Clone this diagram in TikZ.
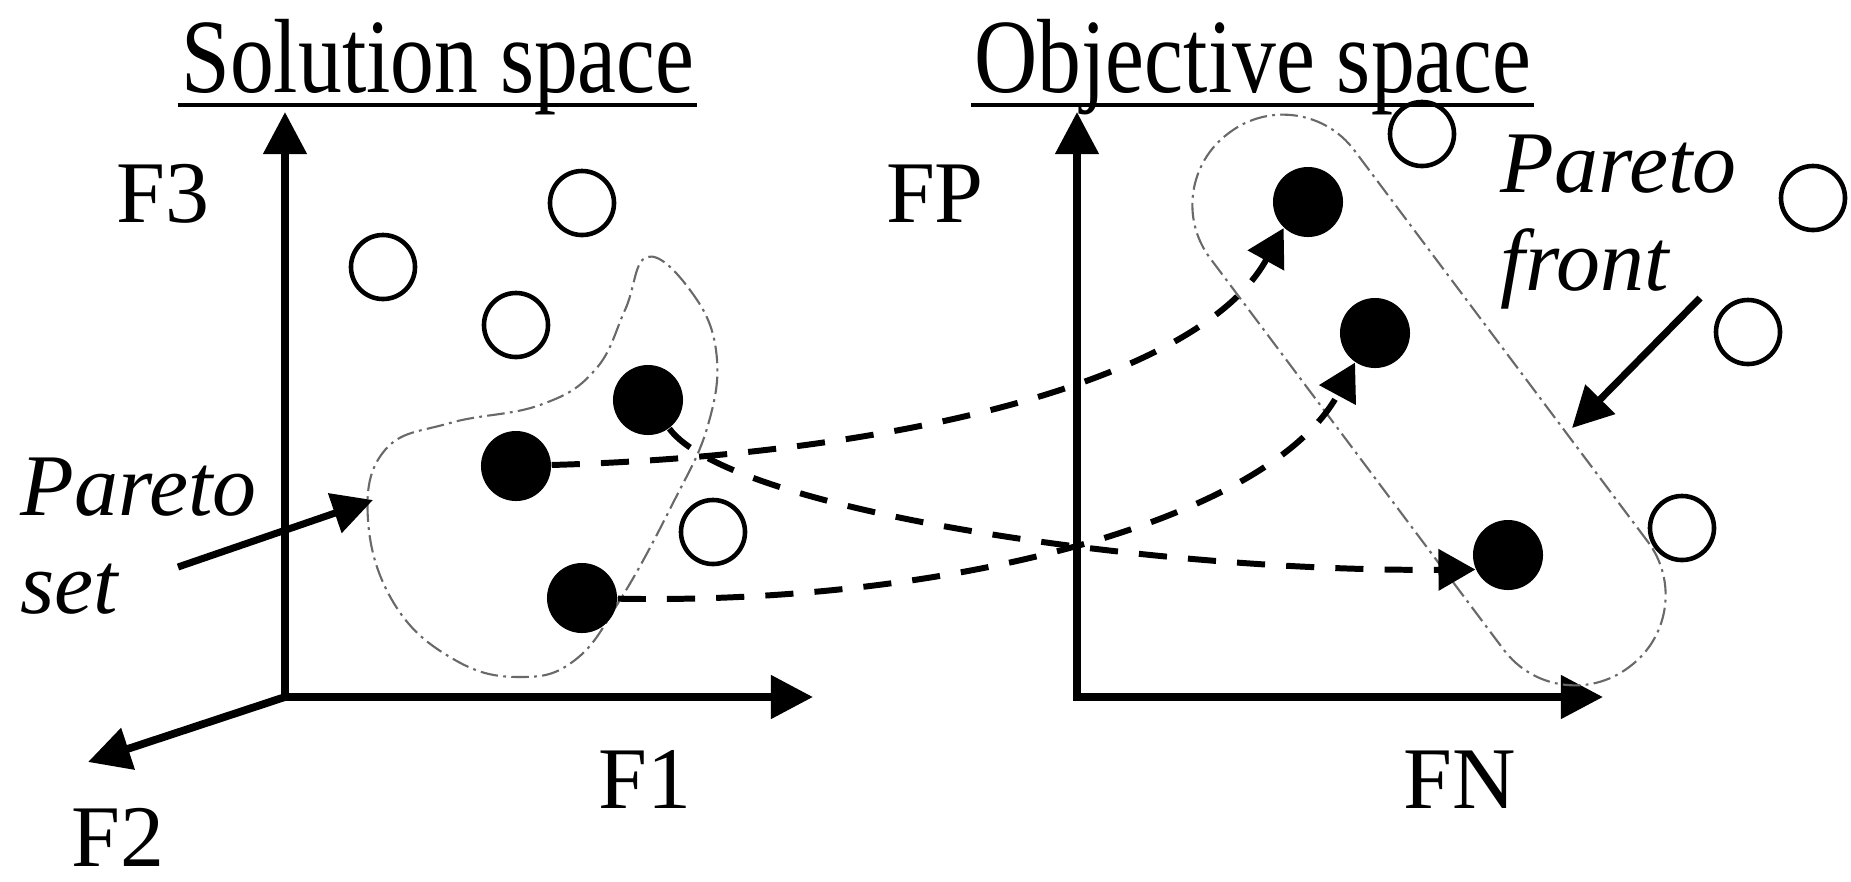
\documentclass[tikz,border=0pt]{standalone}
\usepackage{graphicx}
\usepackage{fontspec}
\setmainfont{Liberation Serif}
\usetikzlibrary{arrows.meta, positioning}
\definecolor{RegionGray}{RGB}{105,105,105}

\begin{document}
\begin{tikzpicture}[
  x=0.01cm, y=-0.01cm,
  heading/.style={font=\fontsize{30}{34}\selectfont, inner sep=0pt},
  axislabel/.style={font=\fontsize{25}{28}\selectfont, inner sep=0pt},
  note/.style={font=\fontsize{25}{28}\selectfont\itshape, inner sep=0pt, align=left},
  axispair/.style={{Triangle[length=12pt,width=12pt]}-{Triangle[length=12pt,width=12pt]},
                   line width=2.2pt},
  axisline/.style={-{Triangle[length=12pt,width=12pt]}, line width=2.2pt},
  pointer/.style={-{Triangle[length=11.5pt,width=11.5pt]}, line width=2pt},
  link/.style={-{Triangle[length=10.5pt,width=11.5pt]}, line width=1.7pt,
               dash pattern=on 8pt off 6pt},
  dominated/.style={circle, draw, line width=1.3pt, minimum size=6.4mm, inner sep=0pt},
  pareto/.style={circle, fill, minimum size=7mm, inner sep=0pt},
  region/.style={draw=RegionGray, line width=0.6pt,
                 dash pattern=on 5pt off 1.5pt on 0.8pt off 1.5pt}
]
\useasboundingbox (0,0) rectangle (1851,881);

% titles
\node[heading, anchor=base] (soltitle) at (438,92) {\scalebox{0.83}[1]{Solution space}};
\node[heading, anchor=base] (objtitle) at (1253,92) {\scalebox{0.83}[1]{Objective space}};
\draw[line width=1pt] ([shift={(-3,13)}]soltitle.base west) -- ([shift={(2,13)}]soltitle.base east);
\draw[line width=1pt] ([shift={(-3,13)}]objtitle.base west) -- ([shift={(2,13)}]objtitle.base east);

% axes
\coordinate (orig1) at (285,697);
\coordinate (f3end) at (285,112);
\coordinate (f1end) at (813,697);
\coordinate (f2end) at (88,762);
\coordinate (orig2) at (1077,697);
\coordinate (fpend) at (1077,112);
\coordinate (fnend) at (1603,697);
\draw[axispair] (f3end) -- (orig1) -- (f1end);
\draw[axisline] (orig1) -- (f2end);
\draw[axispair] (fpend) -- (orig2) -- (fnend);

\node[axislabel, anchor=base] (lblF3) at (163,222) {F3};
\node[axislabel, anchor=base] (lblF1) at (645,808) {F1};
\node[axislabel, anchor=base] (lblF2) at (118,866) {F2};
\node[axislabel, anchor=base] (lblFP) at (935,222) {FP};
\node[axislabel, anchor=base] (lblFN) at (1460,808) {FN};

% pareto set and pareto front
\draw[region] plot[smooth cycle, tension=0.7] coordinates {
  (647,257) (690,290) (716,350) (708,425) (672,505) (620,600) (575,660)
  (520,677) (455,660) (395,605) (368,520) (385,450) (450,423) (540,405)
  (595,370) (625,310)};
\node[region, rounded corners=0.89cm, minimum width=6.67cm, minimum height=1.8cm,
      rotate=-53.13, inner sep=0pt] (front) at (1429,400) {};

% solution space points
\node[dominated] (s1) at (383,267) {};
\node[dominated] (s2) at (582,203) {};
\node[dominated] (s3) at (516,325) {};
\node[dominated] (s4) at (713,532) {};
\node[pareto] (p1) at (648,400) {};
\node[pareto] (p2) at (516,466) {};
\node[pareto] (p3) at (582,598) {};

% objective space points
\node[dominated] (q1) at (1422,134) {};
\node[dominated] (q2) at (1813,198) {};
\node[dominated] (q3) at (1748,332) {};
\node[dominated] (q4) at (1682,528) {};
\node[pareto] (r1) at (1308,202) {};
\node[pareto] (r2) at (1375,333) {};
\node[pareto] (r3) at (1508,555) {};

% mappings
\draw[link] (p2) .. controls (900,455) and (1200,380) .. (r1.227);
\draw[link] (p1) .. controls (730,510) and (1150,572) .. (r3.204);
\draw[link] (p3) .. controls (950,605) and (1270,520) .. (r2.236);

% notes
\node[note, anchor=north west] (setnote) at (20,457) {Pareto\\set};
\node[note, anchor=north west] (frontnote) at (1500,134) {Pareto\\front};
\coordinate (settail) at (178,567);
\coordinate (setedge) at (373,500);
\coordinate (fronttail) at (1700,298);
\coordinate (frontedge) at (1572,428);
\draw[pointer] (settail) -- (setedge);
\draw[pointer] (fronttail) -- (frontedge);

\end{tikzpicture}
\end{document}
